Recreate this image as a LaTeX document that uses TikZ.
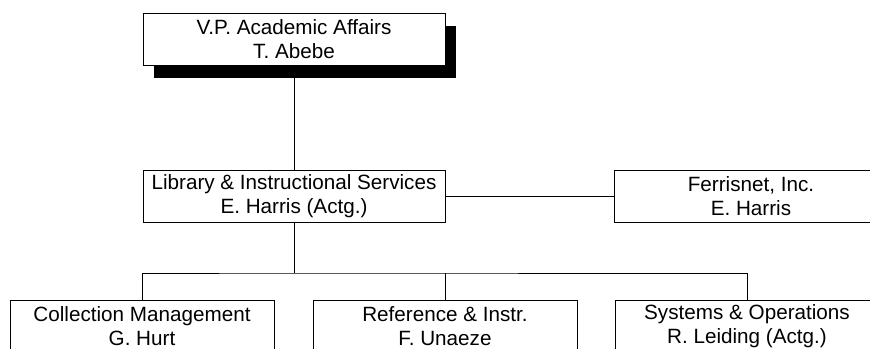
\documentclass[tikz,border=0pt]{standalone}
\usepackage{fontspec}
\setmainfont{Liberation Sans}
\usetikzlibrary{shadows}

\tikzset{
  unit/.style={draw, line width=0.7pt, fill=white, inner sep=0pt, align=center,
    minimum height=1.3cm, font=\fontsize{14.7}{17}\selectfont},
  topunit/.style={unit, minimum width=7.55cm,
    drop shadow={shadow xshift=0.275cm, shadow yshift=-0.325cm, fill=black, opacity=1}},
  midunit/.style={unit, minimum width=7.55cm},
  subunit/.style={unit, minimum width=6.6cm},
  link/.style={line width=0.7pt}
}

\begin{document}
\begin{tikzpicture}
            \useasboundingbox (0,0) rectangle (21.75,-8.725);
            \clip (0,0) rectangle (21.75,-8.725);

            \node[topunit] (vp) at (7.35,-0.975) {V.P. Academic Affairs\\T. Abebe};
            \coordinate (vpS) at ([yshift=-0.325cm]vp.south);

            \node[midunit] (lis) at (7.35,-4.9) {Library \& Instructional Services\\E. Harris (Actg.)};
            \node[unit, minimum width=6.85cm] (fn) at (18.775,-4.9) {Ferrisnet, Inc.\\E. Harris};

            \coordinate (bus) at (7.35,-6.825);

            \node[subunit] (coll) at (3.55,-8.15) {Collection Management\\G. Hurt};
            \node[subunit] (ref) at (11.125,-8.15) {Reference \& Instr.\\F. Unaeze};
            \node[subunit] (sys) at (18.675,-8.15) {Systems \& Operations\\R. Leiding (Actg.)};

            \draw[link] (vpS) -- (lis.north);
            \draw[link] (lis.east) -- (fn.west);
            \draw[link] (lis.south) -- (bus);
            \draw[link] (coll.north) |- (bus) -| (sys.north);
            \draw[link] (ref.north) -- (ref.north |- bus);
          \end{tikzpicture}
\end{document}
